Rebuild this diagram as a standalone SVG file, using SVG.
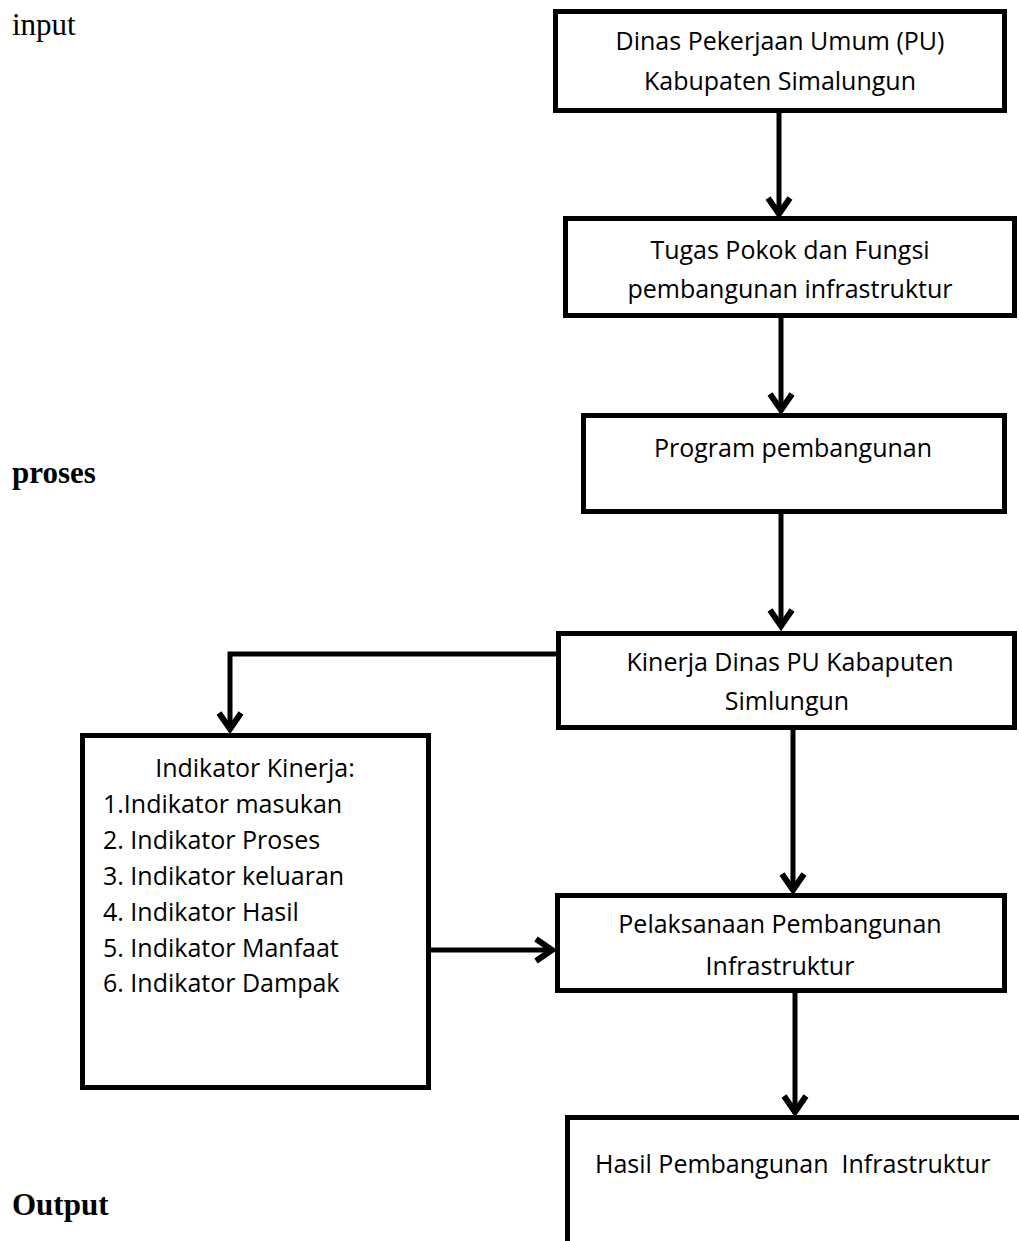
<svg xmlns="http://www.w3.org/2000/svg" width="1019" height="1241" viewBox="0 0 1019 1241">
<style>
.box{fill:#fff;stroke:#000;stroke-width:5}
.t{font-family:"Open Sans","Liberation Sans",sans-serif;font-size:25px;fill:#000}
.c{text-anchor:middle}
.lab{font-family:"Liberation Serif","Times New Roman",serif;font-size:31px;fill:#000}
.b{font-weight:bold}
.line{fill:none;stroke:#000;stroke-width:5}
.head{fill:none;stroke:#000;stroke-width:6;stroke-linejoin:miter;stroke-linecap:butt}
</style>
<defs>
<path id="chev" class="head" d="M-11,-17 L0,-1 L11,-17"/>
</defs>
<rect width="1019" height="1241" fill="#fff"/>

<g id="labels">
<text class="lab" x="12" y="35">input</text>
<text class="lab b" x="12" y="483">proses</text>
<text class="lab b" x="12" y="1215">Output</text>
</g>

<g id="connectors">
<line class="line" x1="779" y1="113" x2="779" y2="212"/>
<use href="#chev" x="779" y="215"/>
<line class="line" x1="781" y1="318" x2="781" y2="408"/>
<use href="#chev" x="781" y="411"/>
<line class="line" x1="781" y1="514" x2="781" y2="624"/>
<use href="#chev" x="781" y="627"/>
<line class="line" x1="793" y1="730" x2="793" y2="888"/>
<use href="#chev" x="793" y="891"/>
<line class="line" x1="795" y1="993" x2="795" y2="1110"/>
<use href="#chev" x="795" y="1113"/>
<path class="line" d="M556,654 L230,654 L230,727"/>
<use href="#chev" x="230" y="730"/>
<line class="line" x1="431" y1="950" x2="550" y2="950"/>
<path class="head" d="M536,939 L552,950 L536,961"/>
</g>

<g id="n1">
<rect class="box" x="555.5" y="11.5" width="449" height="99"/>
<text class="t c" x="780" y="50">Dinas Pekerjaan Umum (PU)</text>
<text class="t c" x="780" y="90">Kabupaten Simalungun</text>
</g>
<g id="n2">
<rect class="box" x="565.5" y="218.5" width="449" height="97"/>
<text class="t c" x="790" y="259">Tugas Pokok dan Fungsi</text>
<text class="t c" x="790" y="298">pembangunan infrastruktur</text>
</g>
<g id="n3">
<rect class="box" x="583.5" y="415.5" width="421" height="96"/>
<text class="t c" x="793" y="457">Program pembangunan</text>
</g>
<g id="n4">
<rect class="box" x="558.5" y="633.5" width="456" height="94"/>
<text class="t c" x="790" y="671">Kinerja Dinas PU Kabaputen</text>
<text class="t c" x="787" y="710">Simlungun</text>
</g>
<g id="n5">
<rect class="box" x="82.5" y="735.5" width="346" height="352"/>
<text class="t c" x="255" y="777">Indikator Kinerja:</text>
<text class="t" x="103" y="813">1.Indikator masukan</text>
<text class="t" x="103" y="849">2. Indikator Proses</text>
<text class="t" x="103" y="885">3. Indikator keluaran</text>
<text class="t" x="103" y="921">4. Indikator Hasil</text>
<text class="t" x="103" y="957">5. Indikator Manfaat</text>
<text class="t" x="103" y="992">6. Indikator Dampak</text>
</g>
<g id="n6">
<rect class="box" x="557.5" y="895.5" width="447" height="95"/>
<text class="t c" x="780" y="933">Pelaksanaan Pembangunan</text>
<text class="t c" x="780" y="975">Infrastruktur</text>
</g>
<g id="n7">
<rect class="box" x="567.5" y="1117.5" width="500" height="200"/>
<text class="t" x="595" y="1173" xml:space="preserve">Hasil Pembangunan  Infrastruktur</text>
</g>
</svg>
